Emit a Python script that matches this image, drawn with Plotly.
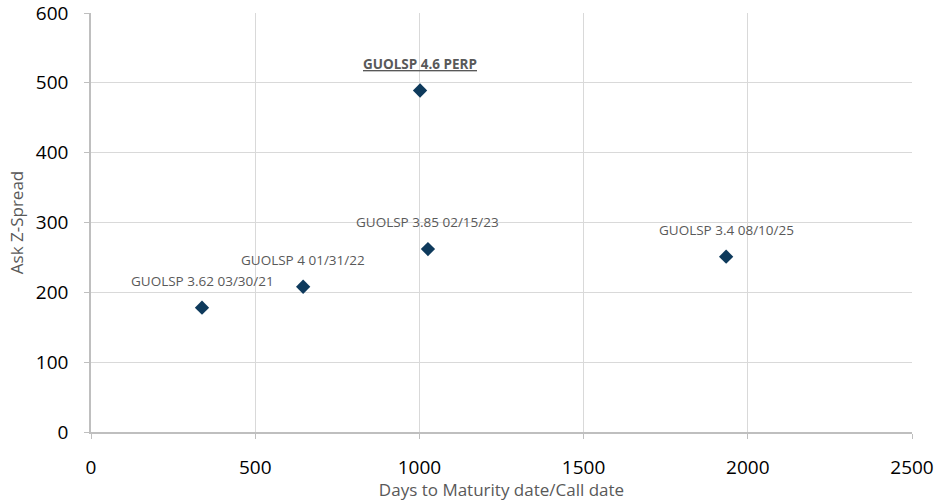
import plotly.graph_objects as go

labels = ["GUOLSP 3.62 03/30/21", "GUOLSP 4 01/31/22", "GUOLSP 4.6 PERP",
          "GUOLSP 3.85 02/15/23", "GUOLSP 3.4 08/10/25"]
days = [338, 646, 1002, 1026, 1934]
spread = [178, 208, 489, 262, 251]
highlight = [False, False, True, False, False]

fig = go.Figure()
fig.add_trace(go.Scatter(
    x=days, y=spread, mode="markers",
    marker=dict(symbol="diamond", size=11, color="#0E3A5C"),
    hoverinfo="skip", showlegend=False,
))

for lab, x, y, h in zip(labels, days, spread, highlight):
    txt = f"<b><u>{lab}</u></b>" if h else lab
    fig.add_annotation(x=x, y=y, text=txt, showarrow=False, yshift=27,
                       font=dict(family="Open Sans", size=13.5, color="#595959"))

axis_common = dict(
    showgrid=True, gridcolor="#D9D9D9", gridwidth=1,
    showline=True, linecolor="#BFBFBF", linewidth=1.5,
    zeroline=False, ticks="outside", ticklen=5, tickcolor="#BFBFBF",
    tickfont=dict(family="Open Sans", size=19, color="#000000"),
    ticklabeloverflow="allow",
    automargin=False,
)

fig.update_layout(
    width=935, height=501,
    margin=dict(l=91, r=23, t=13, b=69),
    paper_bgcolor="white", plot_bgcolor="white",
    xaxis=dict(range=[0, 2500], dtick=500, ticklabelstandoff=12,
               title=dict(text="Days to Maturity date/Call date", standoff=10,
                          font=dict(family="Open Sans", size=17, color="#595959")),
               **axis_common),
    yaxis=dict(range=[0, 600], dtick=100, ticklabelstandoff=12,
               title=dict(text="Ask Z-Spread", standoff=8,
                          font=dict(family="Open Sans", size=17, color="#595959")),
               **axis_common),
)

fig.write_html("out.html")
